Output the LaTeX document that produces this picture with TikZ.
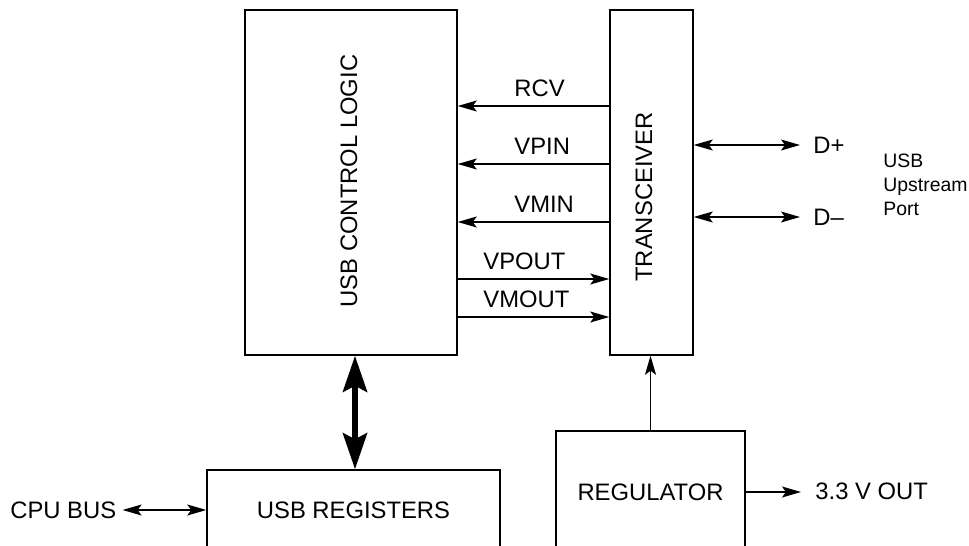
\documentclass[tikz,border=0pt]{standalone}
\usepackage{fontspec}
\setmainfont{Liberation Sans}
\usetikzlibrary{
		positioning,
		arrows.meta
	}
\tikzset{
		>={Stealth[length=9.5pt,width=5.5pt,inset=2pt]},
		blk/.style={draw,line width=0.75pt,inner sep=0pt},
		sig/.style={line width=0.65pt},
		lbl/.style={inner sep=0pt}
	}

\begin{document}
\begin{tikzpicture}[x=0.5pt, y=-0.5pt, font=\fontsize{11.9}{13}\selectfont] % (each unit = one pixel of the sketch)
		\useasboundingbox (0,0) rectangle (969,546);
		\clip (0,0) rectangle (969,546);
		% the blocks
		\node[blk, minimum width=106pt, minimum height=172.5pt] (ctrl) at (351,182.5) {};
		\node[lbl, rotate=90] (ctrltxt) at (349,181) {USB CONTROL LOGIC};
		\node[blk, minimum width=41.5pt, minimum height=172.5pt] (trx) at (651.5,182.5) {};
		\node[lbl, rotate=90] (trxtxt) at (644,197) {TRANSCEIVER};
		\node[blk, minimum width=146.5pt, minimum height=40pt] (regs) at (353.5,510) {USB REGISTERS};
		\node[blk, minimum width=94.5pt, minimum height=61pt] (reg) at (650.5,492) {REGULATOR};
		% outside labels
		\node[lbl, anchor=west] (cpu) at (10,510) {CPU BUS};
		\node[lbl, anchor=west] (vout) at (815,491) {3.3 V OUT};
		\node[lbl, anchor=west] (dp) at (813,145) {D+};
		\node[lbl, anchor=west] (dm) at (813,217) {D--};
		\node[lbl, anchor=west, align=left, font=\fontsize{9.7}{12}\selectfont] (port) at (883,185) {USB\\Upstream\\Port};
		% signals between the two blocks
		\foreach \name/\y in {RCV/106,VPIN/164,VMIN/222}{
			\coordinate (s\name) at (0,\y);
			\draw[sig,->] (trx.west |- s\name) -- (ctrl.east |- s\name);
			\node[lbl, anchor=south west] (l\name) at (514,\y-9) {\name};
		}
		\foreach \name/\y in {VPOUT/279,VMOUT/317}{
			\coordinate (s\name) at (0,\y);
			\draw[sig,->] (ctrl.east |- s\name) -- (trx.west |- s\name);
			\node[lbl, anchor=south west] (l\name) at (483,\y-9) {\name};
		}
		% port and supply arrows
		\draw[sig,<->] (trx.east |- dp) -- ([xshift=-6.5pt]dp.west);
		\draw[sig,<->] (trx.east |- dm) -- ([xshift=-6.5pt]dm.west);
		\draw[sig,<->] ([xshift=3pt]cpu.east) -- (regs.west);
		\draw[sig,->] (reg.east) -- ([xshift=-7pt]vout.west |- reg.east);
		\draw[sig,->] (reg.north) -- (trx.south -| reg.north);
		\draw[line width=3pt, {Stealth[length=18pt,width=12pt,inset=3pt]}-{Stealth[length=18pt,width=12pt,inset=3pt]}] ([xshift=2pt]ctrl.south) -- ([xshift=2pt]ctrl.south |- regs.north);
	\end{tikzpicture}
\end{document}
